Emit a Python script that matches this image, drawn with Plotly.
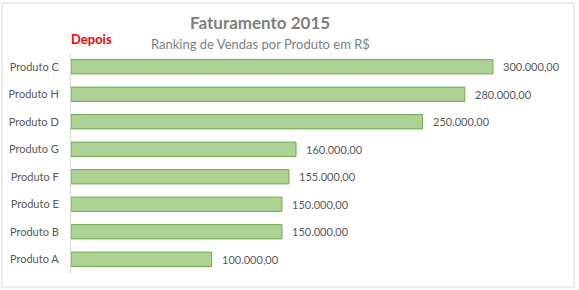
import plotly.graph_objects as go

categories = ["Produto A", "Produto B", "Produto E", "Produto F", "Produto G", "Produto D", "Produto H", "Produto C"]
values = [100000, 150000, 150000, 155000, 160000, 250000, 280000, 300000]
title = "Faturamento 2015"
subtitle = "Ranking de Vendas por Produto em R$"
note = "Depois"

def fmt(v):
    s = f"{v:,.2f}"
    return s.replace(",", "X").replace(".", ",").replace("X", ".")

W, H = 579, 290
L, R, T, B = 71, 8, 53, 17
pw, ph = W - L - R, H - T - B

def px(x):
    return (x - L) / pw

def py(y):
    return (H - B - y) / ph

fig = go.Figure()
fig.add_trace(go.Bar(
    x=values, y=categories, orientation="h",
    marker=dict(color="#acd393", line=dict(color="#70ad47", width=1)),
    hoverinfo="skip",
))

for c, v in zip(categories, values):
    fig.add_annotation(x=v, y=c, xref="x", yref="y", text=fmt(v), showarrow=False,
                       xanchor="left", xshift=8, font=dict(family="Lato", size=11, color="#595959"))

fig.add_annotation(x=px(260), y=py(23), xref="paper", yref="paper", text="<b>" + title + "</b>",
                   showarrow=False, xanchor="center", yanchor="middle",
                   font=dict(family="Lato", size=17, color="#7f7f7f"))
fig.add_annotation(x=px(260), y=py(44), xref="paper", yref="paper", text=subtitle,
                   showarrow=False, xanchor="center", yanchor="middle",
                   font=dict(family="Lato", size=13, color="#7f7f7f"))
fig.add_annotation(x=px(69), y=py(39), xref="paper", yref="paper", text="<b>" + note + "</b>",
                   showarrow=False, xanchor="left", yanchor="middle",
                   font=dict(family="Lato", size=13, color="#ff0000"))

fig.add_shape(type="rect", xref="paper", yref="paper", x0=px(2), x1=px(574), y0=py(287), y1=py(3),
              line=dict(color="#d9d9d9", width=1), fillcolor="rgba(0,0,0,0)", layer="below")

fig.update_layout(
    width=W, height=H, margin=dict(l=L, r=R, t=T, b=B),
    paper_bgcolor="white", plot_bgcolor="white",
    bargap=0.48, showlegend=False,
    xaxis=dict(range=[0, 355500], visible=False, fixedrange=True),
    yaxis=dict(showline=True, linecolor="#d9d9d9", linewidth=1, showgrid=False,
               ticks="outside", ticklen=9, tickcolor="rgba(0,0,0,0)",
               tickfont=dict(family="Lato", size=11, color="#595959")),
)
fig.write_html("out.html")
